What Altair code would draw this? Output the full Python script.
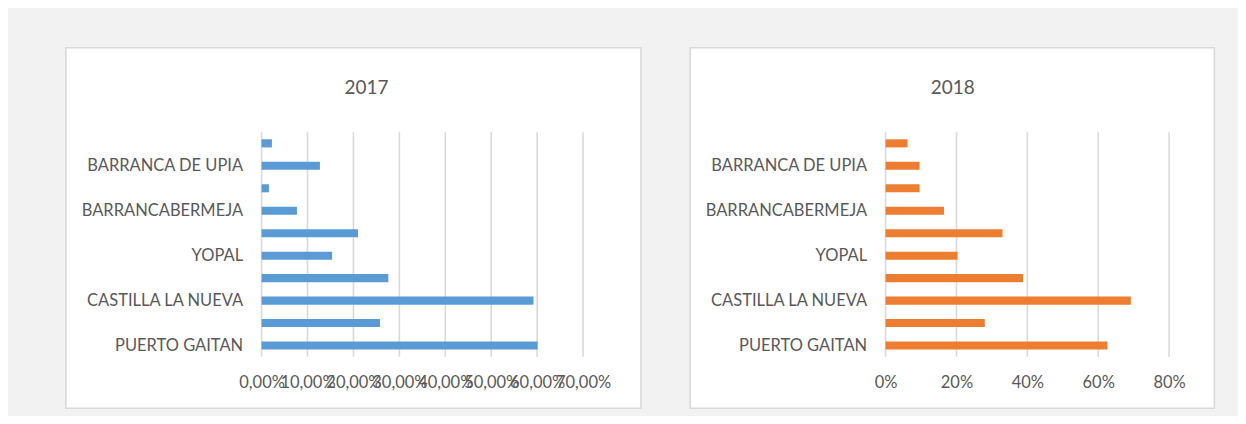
import json
import altair as alt
import pandas as pd

# Categories, top to bottom as displayed (Excel shows only every other label)
categories = ["", "BARRANCA DE UPIA", "", "BARRANCABERMEJA", "", "YOPAL", "",
              "CASTILLA LA NUEVA", "", "PUERTO GAITAN"]
values_2017 = [0.0225, 0.127, 0.016, 0.077, 0.210, 0.1535, 0.276, 0.592, 0.258, 0.601]
values_2018 = [0.062, 0.096, 0.096, 0.165, 0.330, 0.203, 0.388, 0.692, 0.280, 0.626]
ticks_2017 = [0.0, 0.1, 0.2, 0.3, 0.4, 0.5, 0.6, 0.7]
ticks_2018 = [0.0, 0.2, 0.4, 0.6, 0.8]

FONT = "Lato"
TXT = "#595959"
GRID = "#d9d9d9"
H = 225


def panel(title, values, ticks, domain, width, color, label_expr,
          box, title_x):
    df = pd.DataFrame({"row": list(range(len(categories))),
                       "value": values})
    tdf = pd.DataFrame({"value": ticks})
    one = pd.DataFrame({"k": [0]})
    xaxis = alt.Axis(values=ticks, labelExpr=label_expr, title=None,
                     domain=False, ticks=False, grid=False,
                     labelPadding=18, labelFontSize=16.5, labelFont=FONT,
                     labelColor=TXT, labelOverlap=False, labelFlush=False,
                     zindex=1)
    xscale = alt.Scale(domain=domain, nice=False, zero=True)
    frame = alt.Chart(one).mark_rect(fill="white", stroke=GRID,
                                     strokeWidth=1.6).encode(
        x=alt.value(box[0]), x2=alt.value(box[1]),
        y=alt.value(box[2]), y2=alt.value(box[3]))
    ttl = alt.Chart(one).mark_text(font=FONT, fontSize=19, color=TXT,
                                   align="center",
                                   baseline="alphabetic").encode(
        x=alt.value(title_x), y=alt.value(-38.5), text=alt.value(title))
    rules = alt.Chart(tdf).mark_rule(color=GRID, strokeWidth=1.6).encode(
        x=alt.X("value:Q", scale=xscale, axis=xaxis),
        y=alt.value(0), y2=alt.value(H))
    ylab = json.dumps(categories) + "[datum.value]"
    bars = alt.Chart(df).mark_bar(color=color).encode(
        x=alt.X("value:Q", scale=xscale, axis=xaxis),
        y=alt.Y("row:O",
                scale=alt.Scale(paddingInner=0.64, paddingOuter=0.32),
                axis=alt.Axis(labelExpr=ylab, title=None, domain=False,
                              ticks=False, grid=False, labelPadding=19,
                              labelFontSize=16.5, labelFont=FONT,
                              labelColor=TXT, zindex=1)))
    return alt.layer(frame, ttl, rules, bars).properties(width=width,
                                                        height=H)


left = panel("2017", values_2017, ticks_2017, [0, 0.7], 322, "#5b9bd5",
             "replace(format(datum.value, '.2%'), '.', ',')",
             (-196, 380, -84.5, 276.5), 105)
right = panel("2018", values_2018, ticks_2018, [0, 0.8], 284, "#ed7d31",
              "format(datum.value, '.0%')",
              (-195.7, 329.3, -84.5, 276.5), 67.3)

chart = alt.hconcat(left, right, spacing=47).properties(
    background="#f2f2f2",
    padding={"left": 57, "top": 38, "right": 22, "bottom": 6},
).configure_view(stroke=None)

chart.save("out.html", embed_options={"renderer": "svg", "actions": False})
